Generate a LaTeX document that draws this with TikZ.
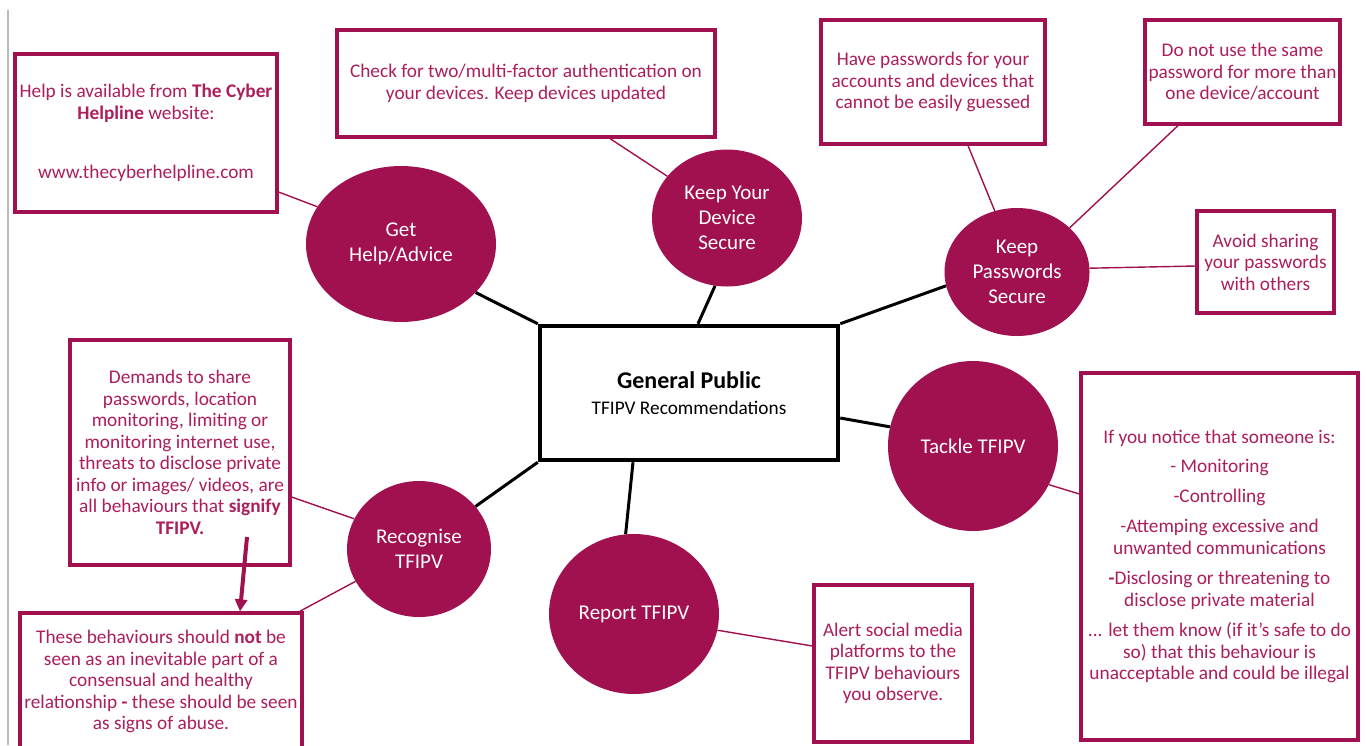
\documentclass[tikz,border=0pt]{standalone}
\usepackage{fontspec}
\setmainfont{Carlito}
\usetikzlibrary{arrows.meta,shapes.geometric}
\definecolor{mag}{RGB}{161,16,79}
\definecolor{magtext}{RGB}{172,30,92}
\definecolor{edgegray}{RGB}{185,185,185}
\begin{document}
\begin{tikzpicture}[x=1pt,y=-1pt,
  box/.style={draw=mag, line width=3.2pt, align=center, text=magtext,
    font=\fontsize{19.3}{21.5}\selectfont, inner sep=0pt},
  bubble/.style={ellipse, fill=mag, text=white, align=center,
    font=\fontsize{21}{25}\selectfont, inner sep=0pt},
  thinlink/.style={draw=mag, line width=1.4pt},
  thicklink/.style={draw=black, line width=3pt},
  bigarrow/.style={draw=mag, line width=4pt, -{Triangle[length=12pt,width=12pt]}}]
\useasboundingbox (0,0) rectangle (1367,745);
\clip (0,0) rectangle (1367,745);
\fill[white] (0,0) rectangle (1367,745);
\coordinate (gtop) at (8,10);
\coordinate (gbot) at (8,745);
\draw[edgegray, line width=1.2pt] (gtop) -- (gbot);

% central box
\node[draw=black, line width=4.5pt, minimum width=298pt, minimum height=134pt, align=center, inner sep=0pt,
  font=\fontsize{19.3}{26}\selectfont] (central) at (689,393)
  {{\fontsize{24}{26}\selectfont\bfseries General Public}\\TFIPV Recommendations};

% text boxes
\node[box, minimum width=262pt, minimum height=158pt] (help) at (146,133)
  {Help is available from \textbf{The Cyber}\\\textbf{Helpline} website:\\[37.5pt]www.thecyberhelpline.com};
\node[box, minimum width=378pt, minimum height=107pt] (check) at (526,83.5)
  {Check for two/multi-factor authentication on\\your devices. Keep devices updated};
\node[box, minimum width=224pt, minimum height=124pt] (have) at (933,82)
  {Have passwords for your\\accounts and devices that\\cannot be easily guessed};
\node[box, minimum width=195pt, minimum height=104pt] (donot) at (1242.5,72)
  {Do not use the same\\password for more than\\one device/account};
\node[box, minimum width=137pt, minimum height=102pt] (avoid) at (1265.5,262)
  {Avoid sharing\\your passwords\\with others};
\node[box, minimum width=220pt, minimum height=225pt] (demands) at (180,452.5)
  {Demands to share\\passwords, location\\monitoring, limiting or\\monitoring internet use,\\threats to disclose private\\info or images/ videos, are\\all behaviours that \textbf{signify}\\\textbf{TFIPV.}};
\node[box, minimum width=282pt, minimum height=137pt] (these) at (161,681.5)
  {These behaviours should \textbf{not} be\\seen as an inevitable part of a\\consensual and healthy\\relationship \textbf{-} these should be seen\\as signs of abuse.};
\node[box, minimum width=158pt, minimum height=157pt] (alert) at (893,663.5)
  {Alert social media\\platforms to the\\TFIPV behaviours\\you observe.};
\node[box, minimum width=277pt, minimum height=367pt] (notice) at (1219.5,556.5)
  {If you notice that someone is:\\[8pt]- Monitoring\\[8pt]-Controlling\\[9pt]-Attemping excessive and\\unwanted communications\\[9pt]\textbf{-}Disclosing or threatening to\\disclose private material\\[9pt]... let them know (if it's safe to do\\so) that this behaviour is\\unacceptable and could be illegal};

% bubbles
\node[bubble, minimum width=190pt, minimum height=156pt] (gethelp) at (401,244) {Get\\Help/Advice};
\node[bubble, minimum width=150pt, minimum height=137pt] (device) at (727,218) {Keep Your\\Device\\Secure};
\node[bubble, minimum width=145pt, minimum height=128pt] (passwords) at (1017,272) {Keep\\Passwords\\Secure};
\node[bubble, minimum width=170pt, minimum height=170pt] (tackle) at (973,446) {Tackle TFIPV};
\node[bubble, minimum width=170pt, minimum height=160pt] (report) at (634,614) {Report TFIPV};
\node[bubble, minimum width=144pt, minimum height=136pt] (recog) at (419,549) {Recognise\\TFIPV};

% thick black connectors
\draw[thicklink] (central.north west) -- (gethelp.-33.7);
\draw[thicklink] ([xshift=9pt]central.north) -- (device.260.7);
\draw[thicklink] (central.north east) -- (passwords.191.3);
\draw[thicklink] ([yshift=-25pt]central.east) -- (tackle.167.3);
\draw[thicklink] ([xshift=-56pt]central.south) -- (report.96.4);
\draw[thicklink] (central.south west) -- (recog.37);

% thin magenta connectors
\draw[thinlink] ([yshift=-59pt]help.east) -- (gethelp.156);
\draw[thinlink] ([xshift=84pt]check.south) -- (device.145);
\draw[thinlink] ([xshift=35pt]have.south) -- (passwords.110.4);
\draw[thinlink] ([xshift=-64.5pt]donot.south) -- (passwords.40.8);
\draw[thinlink] ([yshift=-4pt]avoid.west) -- (passwords.3);
\draw[thinlink] (tackle.-27) -- ([yshift=62.5pt]notice.west);
\draw[thinlink] (report.-11.4) -- ([yshift=17.5pt]alert.west);
\draw[thinlink] (recog.155.6) -- ([yshift=-44.5pt]demands.east);
\draw[thinlink] (recog.207.7) -- ([xshift=-4pt]these.north east);

% arrow between boxes
\coordinate (arrowstart) at (247,537);
\draw[bigarrow] (arrowstart) -- ([xshift=79pt]these.north);
\end{tikzpicture}
\end{document}
